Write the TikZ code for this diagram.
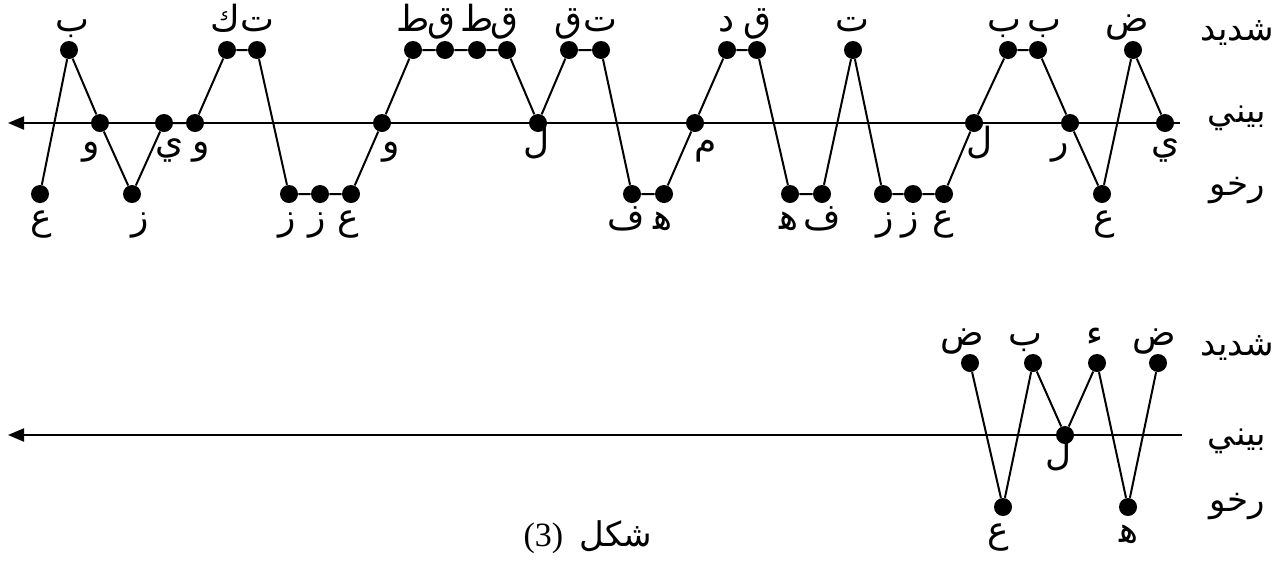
\documentclass[tikz,border=0pt]{standalone}
\usepackage{fontspec}
\setmainfont{Liberation Serif}
\newfontfamily\arabicfont[Script=Arabic]{DejaVu Sans}
\TeXXeTstate=1
\usetikzlibrary{arrows.meta}
\newcommand\artx[1]{{\arabicfont\beginR #1\endR}}
\tikzset{
  dot/.style={circle,fill=black,inner sep=0pt,minimum size=9pt},
  lab/.style={anchor=base,inner sep=0pt,font=\fontsize{18}{21}\selectfont},
  rowlab/.style={anchor=base,inner sep=0pt,font=\fontsize{17}{20}\selectfont},
  conn/.style={line width=1pt},
  axisline/.style={line width=1pt,-{Triangle[length=8pt,width=6.5pt]}}
}
\begin{document}
\begin{tikzpicture}[x=0.5pt,y=-0.5pt]
\useasboundingbox (0,0) rectangle (1275,563);
% axes
\coordinate (aR) at (1180,123);
\coordinate (aL) at (8,123);
\draw[axisline] (aR) -- (aL);
\coordinate (bR) at (1182,435);
\coordinate (bL) at (8,435);
\draw[axisline] (bR) -- (bL);
% top diagram points
\foreach \n/\x/\y/\t/\lx/\ly in {
1/40/194/ع/41/229, 2/69/50/ب/72/31, 3/100/123/و/91/153, 4/132/194/ز/140/229,
5/164/123/ي/170/153, 6/195/123/و/201/153, 7/227/50/ك/225/31, 8/257/50/ت/257/31,
9/289/194/ز/287/229, 10/320/194/ز/317/229, 11/351/194/ع/348/229, 12/382/123/و/391/153,
13/413/50/ط/413/31, 14/445/50/ق/441/31, 15/477/50/ط/477/31, 16/507/50/ق/504/31,
17/538/123/ل/537/153, 18/569/50/ق/568/31, 19/601/50/ت/600/31, 20/632/194/ف/626/229,
21/664/194/ﻫ/663/229, 22/695/123/م/706/153, 23/727/50/د/727/31, 24/757/50/ق/757/31,
25/790/194/ﻫ/789/229, 26/822/194/ف/822/229, 27/853/50/ت/852/31, 28/883/194/ز/885/229,
29/913/194/ز/910/229, 30/944/194/ع/943/229, 31/974/123/ل/980/153, 32/1008/50/ب/1004/31,
33/1038/50/ب/1044/31, 34/1070/123/ر/1060/153, 35/1102/194/ع/1104/229, 36/1133/50/ض/1127/31,
37/1165/123/ي/1166/153}
{
  \node[dot] (p\n) at (\x,\y) {};
  \node[lab] (lp\n) at (\lx,\ly) {\artx{\t}};
}
\draw[conn] (p1) -- (p2) -- (p3) -- (p4) -- (p5) -- (p6) -- (p7) -- (p8) -- (p9) -- (p10)
  -- (p11) -- (p12) -- (p13) -- (p14) -- (p15) -- (p16) -- (p17) -- (p18) -- (p19) -- (p20)
  -- (p21) -- (p22) -- (p23) -- (p24) -- (p25) -- (p26) -- (p27) -- (p28) -- (p29) -- (p30)
  -- (p31) -- (p32) -- (p33) -- (p34) -- (p35) -- (p36) -- (p37);
% bottom diagram points
\foreach \n/\x/\y/\t/\lx/\ly in {
1/970/363/ض/962/345, 2/1003/507/ع/998/542, 3/1033/363/ب/1025/345, 4/1065/435/ل/1059/465,
5/1097/363/ء/1095/345, 6/1128/507/ﻫ/1129/542, 7/1158/363/ض/1154/345}
{
  \node[dot] (q\n) at (\x,\y) {};
  \node[lab] (lq\n) at (\lx,\ly) {\artx{\t}};
}
\draw[conn] (q1) -- (q2) -- (q3) -- (q4) -- (q5) -- (q6) -- (q7);
% row labels
\node[rowlab] (r1) at (1237,40) {\artx{شديد}};
\node[rowlab] (r2) at (1237,122) {\artx{بيني}};
\node[rowlab] (r3) at (1237,195) {\artx{رخو}};
\node[rowlab] (s1) at (1237,355) {\artx{شديد}};
\node[rowlab] (s2) at (1237,445) {\artx{بيني}};
\node[rowlab] (s3) at (1237,511) {\artx{رخو}};
% caption
\node[anchor=base,inner sep=0pt,font=\fontsize{17}{20}\selectfont] (cap) at (588,546) {(3)\hspace{8pt}\artx{شكل}};
\end{tikzpicture}
\end{document}
